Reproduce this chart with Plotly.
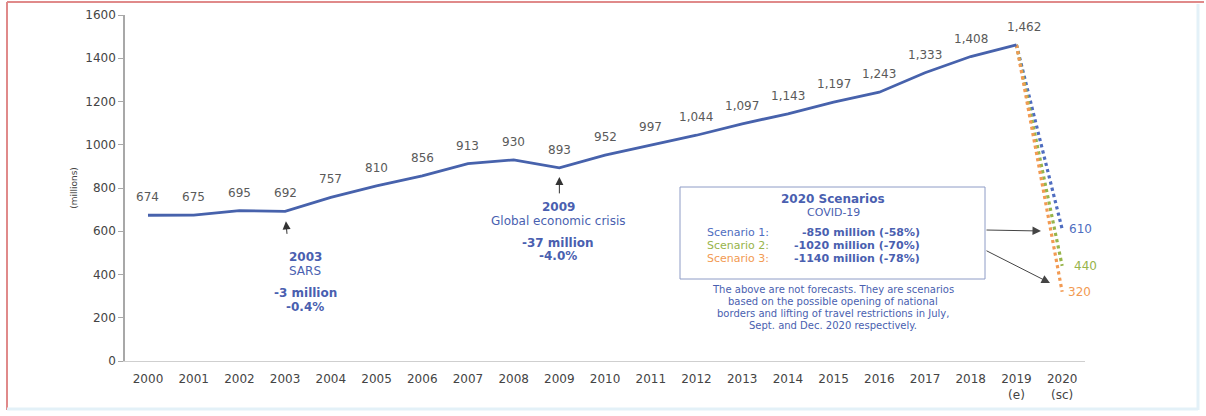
import plotly.graph_objects as go

# ---------------- data ----------------
years = list(range(2000, 2020))
arrivals = [674, 675, 695, 692, 757, 810, 856, 913, 930, 893,
            952, 997, 1044, 1097, 1143, 1197, 1243, 1333, 1408, 1462]
tick_years = list(range(2000, 2021))
tick_text = [str(y) for y in range(2000, 2019)] + ["2019<br>(e)", "2020<br>(sc)"]
scenario_names = ["Scenario 1:", "Scenario 2:", "Scenario 3:"]
scenario_values = [610, 440, 320]
scenario_changes = ["-850 million (-58%)", "-1020 million (-70%)", "-1140 million (-78%)"]
scenario_colors = ["#4f6dc0", "#97b44a", "#f29a52"]
y_ticks = [0, 200, 400, 600, 800, 1000, 1200, 1400, 1600]

# ---------------- layout geometry helpers ----------------
W, H = 1206, 416
L, R, T, B = 125, 121, 15, 55
X0, X1 = 1999.497, 2020.50
Y0, Y1 = 0, 1600
pw, ph = W - L - R, H - T - B


def px_x(p):
    return X0 + (p - L) / pw * (X1 - X0)


def px_y(p):
    return Y0 + (H - B - p) / ph * (Y1 - Y0)


def pap_x(p):
    return (p - L) / pw


def pap_y(p):
    return (H - B - p) / ph


FONT = "DejaVu Sans"
BLUE = "#4a5fb0"
LINE = "#4762ac"

fig = go.Figure()

# scenario dotted lines (drawn first so main line is on top)
for val, col in zip(scenario_values, scenario_colors):
    fig.add_trace(go.Scatter(
        x=[years[-1], 2020], y=[arrivals[-1], val], mode="lines",
        line=dict(color=col, width=3.2, dash="dot"), hoverinfo="skip", showlegend=False))

fig.add_trace(go.Scatter(
    x=years, y=arrivals, mode="lines",
    line=dict(color=LINE, width=2.8), showlegend=False))

ann = []
# data labels
for yr, v in zip(years, arrivals):
    xs = 8 if yr == 2019 else 0
    ann.append(dict(x=yr, y=v, text=f"{v:,}", showarrow=False, yshift=18, xshift=xs,
                    font=dict(family=FONT, size=12, color="#5a5a5a")))

# scenario end labels
for val, col, xs in zip(scenario_values, scenario_colors, [5, 10, 4]):
    ann.append(dict(x=2020, y=val, text=str(val), showarrow=False, xanchor="left",
                    xshift=xs, font=dict(family=FONT, size=12, color=col)))

# SARS annotation
ann.append(dict(x=2003, y=arrivals[3], ax=2, ay=24, axref="pixel", ayref="pixel",
                text="", showarrow=True, arrowhead=2, arrowsize=1.6, arrowwidth=1,
                arrowcolor="#333333", standoff=10))
for txt, py in [("<b>2003</b>", 257), ("SARS", 271), ("<b>-3 million</b>", 293), ("<b>-0.4%</b>", 307)]:
    ann.append(dict(x=px_x(305), y=px_y(py), text=txt, showarrow=False,
                    font=dict(family=FONT, size=12, color=BLUE)))

# 2009 annotation
ann.append(dict(x=2009, y=arrivals[9], ax=0, ay=27, axref="pixel", ayref="pixel",
                text="", showarrow=True, arrowhead=2, arrowsize=1.6, arrowwidth=1,
                arrowcolor="#333333", standoff=9))
for txt, py in [("<b>2009</b>", 207), ("Global economic crisis", 221),
                ("<b>-37 million</b>", 243), ("<b>-4.0%</b>", 256)]:
    ann.append(dict(x=px_x(558), y=px_y(py), text=txt, showarrow=False,
                    font=dict(family=FONT, size=12, color=BLUE)))

# scenario box content
ann.append(dict(x=px_x(833), y=px_y(199), text="<b>2020 Scenarios</b>", showarrow=False,
                font=dict(family=FONT, size=12, color=BLUE)))
ann.append(dict(x=px_x(833), y=px_y(212), text="COVID-19", showarrow=False,
                font=dict(family=FONT, size=11, color=BLUE)))
for i, (nm, ch, col) in enumerate(zip(scenario_names, scenario_changes, scenario_colors)):
    py = 232 + 13 * i
    ann.append(dict(x=px_x(705), y=px_y(py), text=nm, showarrow=False, xanchor="left",
                    font=dict(family=FONT, size=11, color=col)))
    ann.append(dict(x=px_x(922), y=px_y(py), text=f"<b>{ch}</b>", showarrow=False,
                    xanchor="right", font=dict(family=FONT, size=11, color=BLUE)))

foot = ["The above are not forecasts. They are scenarios",
        "based on the possible opening of national",
        "borders and lifting of travel restrictions in July,",
        "Sept. and Dec. 2020 respectively."]
for i, t in enumerate(foot):
    ann.append(dict(x=px_x(833), y=px_y(289 + 12.3 * i), text=t, showarrow=False,
                    font=dict(family=FONT, size=10, color=BLUE)))

# arrows from the box to the scenario ends
ann.append(dict(x=px_x(1041), y=px_y(231), ax=px_x(985), ay=px_y(230), axref="x", ayref="y",
                text="", showarrow=True, arrowhead=2, arrowsize=1.7, arrowwidth=1,
                arrowcolor="#444444"))
ann.append(dict(x=px_x(1050), y=px_y(283), ax=px_x(985), ay=px_y(250), axref="x", ayref="y",
                text="", showarrow=True, arrowhead=2, arrowsize=1.7, arrowwidth=1,
                arrowcolor="#444444"))

shapes = [
    dict(type="rect", xref="x", yref="y", x0=px_x(680), x1=px_x(985), y0=px_y(279), y1=px_y(187),
         line=dict(color="#8e9cc6", width=1), fillcolor="rgba(255,255,255,0)"),
    # page frame
    dict(type="line", xref="paper", yref="paper", x0=pap_x(7), x1=pap_x(1204), y0=pap_y(2), y1=pap_y(2),
         line=dict(color="#e08a8a", width=2)),
    dict(type="line", xref="paper", yref="paper", x0=pap_x(7), x1=pap_x(7), y0=pap_y(2), y1=pap_y(410),
         line=dict(color="#e08a8a", width=2)),
    dict(type="line", xref="paper", yref="paper", x0=pap_x(7), x1=pap_x(1198), y0=pap_y(409), y1=pap_y(409),
         line=dict(color="#e3f1f8", width=3)),
    dict(type="line", xref="paper", yref="paper", x0=pap_x(1198), x1=pap_x(1198), y0=pap_y(4), y1=pap_y(410),
         line=dict(color="#e3f1f8", width=3)),
]

fig.update_layout(
    width=W, height=H,
    margin=dict(l=L, r=R, t=T, b=B, autoexpand=False),
    paper_bgcolor="white", plot_bgcolor="white",
    showlegend=False,
    annotations=ann, shapes=shapes,
    font=dict(family=FONT, color="#444444"),
    xaxis=dict(range=[X0, X1], tickvals=tick_years, ticktext=tick_text,
               showgrid=False, zeroline=False, showline=True, linecolor="#cfcfcf", linewidth=1,
               ticks="outside", ticklen=7, tickcolor="rgba(0,0,0,0)", automargin=False,
               tickfont=dict(family=FONT, size=12, color="#444444"), fixedrange=True),
    yaxis=dict(range=[Y0, Y1], tickvals=y_ticks, showgrid=False, zeroline=False,
               showline=True, linecolor="#a8a8a8", linewidth=1.5, automargin=False,
               ticks="outside", ticklen=5, tickcolor="#a8a8a8",
               tickfont=dict(family=FONT, size=12, color="#444444"),
               title=dict(text="(millions)", standoff=6,
                          font=dict(family=FONT, size=9, color="#444444")),
               fixedrange=True),
)

fig.write_html("out.html", config={"displayModeBar": False},
               post_script="document.body.style.margin='0';document.body.style.padding='0';")
